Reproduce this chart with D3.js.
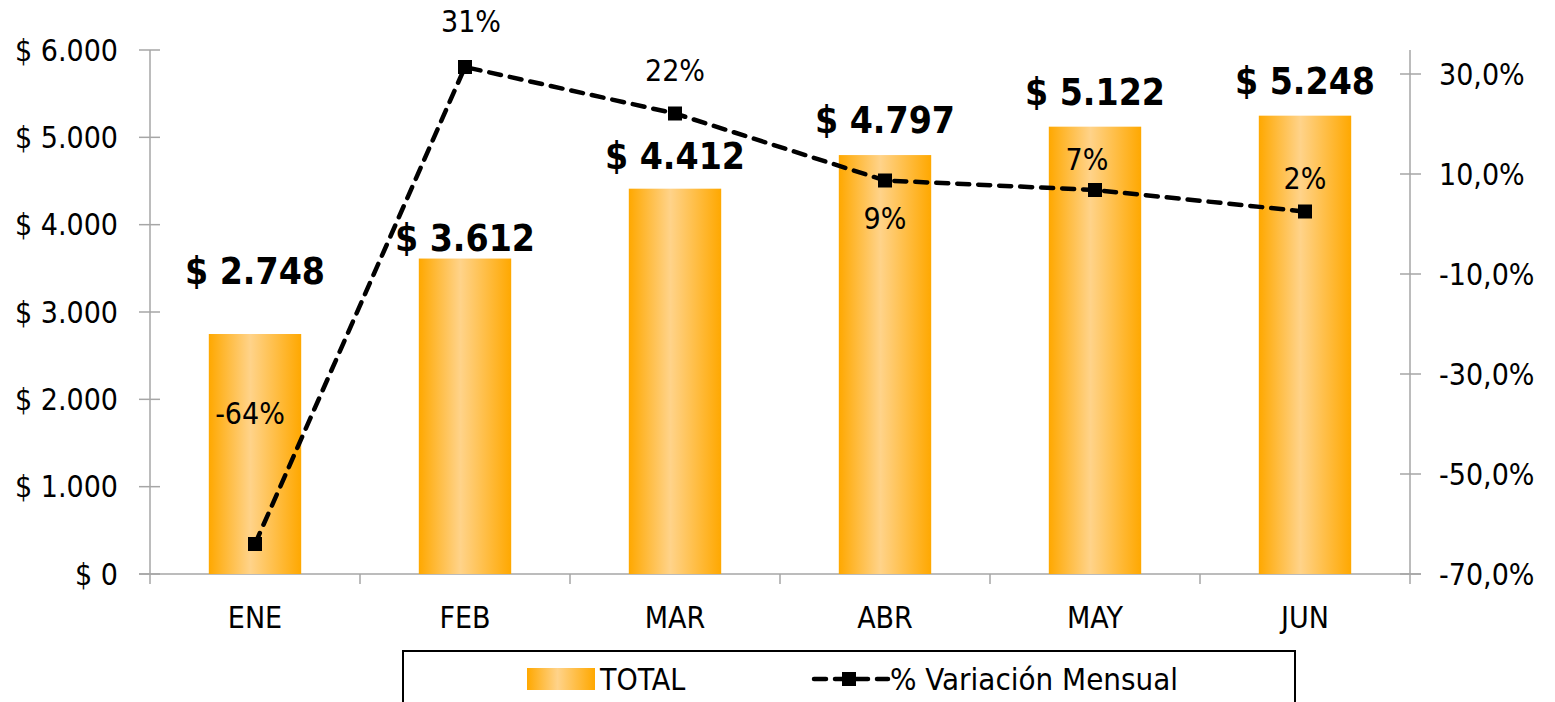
<!DOCTYPE html>
<html>
<head>
<meta charset="utf-8">
<script src="https://cdn.jsdelivr.net/npm/d3@7"></script>
<style>
  body { margin: 0; background: #fff; }
  svg { display: block; font-family: "DejaVu Sans Condensed", "DejaVu Sans", sans-serif; }
</style>
</head>
<body>
<svg id="chart" width="1555" height="702"></svg>
<script>
// data
var months = ["ENE", "FEB", "MAR", "ABR", "MAY", "JUN"];
var totals = [2748, 3612, 4412, 4797, 5122, 5248];
var variation = [-64, 31.4, 22.1, 8.7, 6.8, 2.5];
var variationLabels = ["-64%", "31%", "22%", "9%", "7%", "2%"];
var leftTicks = [0, 1000, 2000, 3000, 4000, 5000, 6000];
var rightTicks = [-70, -50, -30, -10, 10, 30];

// label placement (styling only)
var totalLabelDy = [-50, -8, -20, -22, -22, -22];
var varLabelDy = [-120, -35, -33, 48, -20, -23];
var varLabelDx = [-5, 6, 0, 0, -8, 0];

var svg = d3.select("#chart");
var plotLeft = 150, plotRight = 1410, plotTop = 50, plotBottom = 574;

var x = d3.scaleBand().domain(months).range([plotLeft, plotRight]).paddingInner(0.56).paddingOuter(0.28);
var yL = d3.scaleLinear().domain([0, 6000]).range([plotBottom, plotTop]);
var yR = d3.scaleLinear().domain([-70, 34.8]).range([plotBottom, plotTop]);

var grad = svg.append("defs").append("linearGradient")
    .attr("id", "barGrad").attr("x1", "0").attr("x2", "1").attr("y1", "0").attr("y2", "0");
grad.append("stop").attr("offset", "0%").attr("stop-color", "#ffa800");
grad.append("stop").attr("offset", "45%").attr("stop-color", "#ffd38a");
grad.append("stop").attr("offset", "100%").attr("stop-color", "#ffa800");

var fmt = d => "$ " + d3.format(",")(d).replace(/,/g, ".");
var axisColor = "#a6a6a6";

// left axis
var gL = svg.append("g");
gL.append("line").attr("x1", plotLeft).attr("x2", plotLeft).attr("y1", plotTop).attr("y2", plotBottom)
    .attr("stroke", axisColor).attr("stroke-width", 1.5);
gL.selectAll("line.t").data(leftTicks).join("line").attr("class", "t")
    .attr("x1", plotLeft - 11).attr("x2", plotLeft + 10)
    .attr("y1", d => yL(d)).attr("y2", d => yL(d))
    .attr("stroke", axisColor).attr("stroke-width", 1.5);
gL.selectAll("text").data(leftTicks).join("text")
    .attr("x", 118).attr("y", d => yL(d)).attr("dy", "0.36em")
    .attr("text-anchor", "end").style("font-size", "30px")
    .text(d => d === 0 ? "$ 0" : fmt(d));

// right axis
var gR = svg.append("g");
gR.append("line").attr("x1", plotRight).attr("x2", plotRight).attr("y1", plotTop).attr("y2", plotBottom)
    .attr("stroke", axisColor).attr("stroke-width", 1.5);
gR.selectAll("line.t").data(rightTicks).join("line").attr("class", "t")
    .attr("x1", plotRight - 10).attr("x2", plotRight + 11)
    .attr("y1", d => yR(d)).attr("y2", d => yR(d))
    .attr("stroke", axisColor).attr("stroke-width", 1.5);
gR.selectAll("text").data(rightTicks).join("text")
    .attr("x", 1439).attr("y", d => yR(d)).attr("dy", "0.36em")
    .style("font-size", "30px")
    .text(d => d.toFixed(1).replace(".", ",") + "%");

// bottom axis
var bounds = d3.range(months.length + 1).map(i => plotLeft + i * (plotRight - plotLeft) / months.length);
svg.append("line").attr("x1", plotLeft - 11).attr("x2", plotRight + 11).attr("y1", plotBottom).attr("y2", plotBottom)
    .attr("stroke", axisColor).attr("stroke-width", 1.5);
svg.selectAll("line.cat").data(bounds).join("line").attr("class", "cat")
    .attr("x1", d => d).attr("x2", d => d).attr("y1", plotBottom).attr("y2", plotBottom + 10)
    .attr("stroke", axisColor).attr("stroke-width", 1.5);
svg.selectAll("text.cat").data(months).join("text").attr("class", "cat")
    .attr("x", d => x(d) + x.bandwidth() / 2).attr("y", 628)
    .attr("text-anchor", "middle").style("font-size", "30px")
    .text(d => d);

// bars
svg.selectAll("rect.bar").data(totals).join("rect").attr("class", "bar")
    .attr("x", (d, i) => x(months[i])).attr("width", x.bandwidth())
    .attr("y", d => yL(d)).attr("height", d => plotBottom - yL(d))
    .attr("fill", "url(#barGrad)");

svg.selectAll("text.tot").data(totals).join("text").attr("class", "tot")
    .attr("x", (d, i) => x(months[i]) + x.bandwidth() / 2)
    .attr("y", (d, i) => yL(d) + totalLabelDy[i])
    .attr("text-anchor", "middle").style("font-size", "37px").style("font-weight", "bold")
    .text(fmt);

// line
var cx = i => x(months[i]) + x.bandwidth() / 2;
var line = d3.line().x((d, i) => cx(i)).y(d => yR(d));
svg.append("path").datum(variation)
    .attr("d", line).attr("fill", "none").attr("stroke", "#000")
    .attr("stroke-width", 4.5).attr("stroke-dasharray", "12,9").attr("stroke-linecap", "round");
svg.selectAll("rect.mk").data(variation).join("rect").attr("class", "mk")
    .attr("x", (d, i) => cx(i) - 7).attr("y", d => yR(d) - 7)
    .attr("width", 14).attr("height", 14).attr("fill", "#000");

svg.selectAll("text.var").data(variation).join("text").attr("class", "var")
    .attr("x", (d, i) => cx(i) + varLabelDx[i]).attr("y", (d, i) => yR(d) + varLabelDy[i])
    .attr("text-anchor", "middle").style("font-size", "30px")
    .text((d, i) => variationLabels[i]);

// legend
var lg = svg.append("g");
lg.append("rect").attr("x", 403).attr("y", 651).attr("width", 892).attr("height", 70)
    .attr("fill", "none").attr("stroke", "#000").attr("stroke-width", 2);
lg.append("rect").attr("x", 527).attr("y", 668).attr("width", 68).attr("height", 22).attr("fill", "url(#barGrad)");
lg.append("text").attr("x", 600).attr("y", 690).style("font-size", "30px").text("TOTAL");
lg.append("line").attr("x1", 814).attr("x2", 888).attr("y1", 679).attr("y2", 679)
    .attr("stroke", "#000").attr("stroke-width", 4.5).attr("stroke-dasharray", "12,9").attr("stroke-linecap", "round");
lg.append("rect").attr("x", 842).attr("y", 672).attr("width", 14).attr("height", 14).attr("fill", "#000");
lg.append("text").attr("x", 890).attr("y", 690).style("font-size", "31px").text("% Variación Mensual");
</script>
</body>
</html>
